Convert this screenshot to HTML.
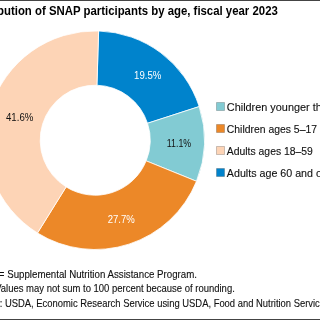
<!DOCTYPE html>
<html><head><meta charset="utf-8"><style>
html,body{margin:0;padding:0;}
body{width:320px;height:320px;position:relative;overflow:hidden;background:#fff;}
svg{position:absolute;left:0;top:0;will-change:transform;}
text{font-family:"Liberation Sans",sans-serif;white-space:pre;}
</style></head><body>
<svg width="320" height="320" viewBox="0 0 320 320">
<rect x="0" y="0" width="320" height="1" fill="#444"/>
<rect x="0" y="319" width="320" height="1" fill="#444"/>
<path d="M98.63,30.95 A109.3,109.3 0 0 1 199.19,106.55 L147.53,123.27 A55.0,55.0 0 0 0 96.93,85.23 Z" fill="#0083CC" stroke="#fff" stroke-width="0.8"/>
<path d="M199.19,106.55 A109.3,109.3 0 0 1 196.49,181.27 L146.17,160.87 A55.0,55.0 0 0 0 147.53,123.27 Z" fill="#82CBD3" stroke="#fff" stroke-width="0.8"/>
<path d="M196.49,181.27 A109.3,109.3 0 0 1 37.46,233.00 L66.14,186.90 A55.0,55.0 0 0 0 146.17,160.87 Z" fill="#EC8828" stroke="#fff" stroke-width="0.8"/>
<path d="M37.46,233.00 A109.3,109.3 0 0 1 98.63,30.95 L96.93,85.23 A55.0,55.0 0 0 0 66.14,186.90 Z" fill="#FDD4B6" stroke="#fff" stroke-width="0.8"/>
<rect x="216.5" y="102.5" width="8" height="8" fill="#82CBD3" stroke="#000" stroke-opacity="0.2" stroke-width="1"/>
<rect x="216.5" y="124.5" width="8" height="8" fill="#EC8828" stroke="#000" stroke-opacity="0.2" stroke-width="1"/>
<rect x="216.5" y="146.5" width="8" height="8" fill="#FDD4B6" stroke="#000" stroke-opacity="0.2" stroke-width="1"/>
<rect x="216.5" y="168.5" width="8" height="8" fill="#0083CC" stroke="#000" stroke-opacity="0.2" stroke-width="1"/>
<text transform="translate(-32.08,15.0) scale(0.9505,1)" font-size="12" font-weight="bold" fill="#000" stroke="#000" stroke-width="0">Distribution of SNAP participants by age, fiscal year 2023</text>
<text transform="translate(134.07,78.5) scale(0.9159,1)" font-size="10.5" font-weight="normal" fill="#fff" stroke="#fff" stroke-width="0">19.5%</text>
<text transform="translate(5.98,120.8) scale(0.9189,1)" font-size="10.5" font-weight="normal" fill="#111" stroke="#111" stroke-width="0">41.6%</text>
<text transform="translate(166.83,147) scale(0.8373,1)" font-size="10.5" font-weight="normal" fill="#111" stroke="#111" stroke-width="0">11.1%</text>
<text transform="translate(107.72,222.5) scale(0.9107,1)" font-size="10.5" font-weight="normal" fill="#fff" stroke="#fff" stroke-width="0">27.7%</text>
<text transform="translate(226.8,111.0) scale(0.9684,1)" font-size="11.25" font-weight="normal" fill="#111" stroke="#111" stroke-width="0.12">Children younger than 5</text>
<text transform="translate(226.8,133.0) scale(0.9254,1)" font-size="11.25" font-weight="normal" fill="#111" stroke="#111" stroke-width="0.12">Children ages 5–17</text>
<text transform="translate(226.8,155.0) scale(0.9239,1)" font-size="11.25" font-weight="normal" fill="#111" stroke="#111" stroke-width="0.12">Adults ages 18–59</text>
<text transform="translate(226.8,177.0) scale(0.9513,1)" font-size="11.25" font-weight="normal" fill="#111" stroke="#111" stroke-width="0.12">Adults age 60 and older</text>
<text transform="translate(-30.1,277.6) scale(0.9028,1)" font-size="10.75" font-weight="normal" fill="#111" stroke="#111" stroke-width="0.12">SNAP = Supplemental Nutrition Assistance Program.</text>
<text transform="translate(-30.1,291.7) scale(0.8833,1)" font-size="10.75" font-weight="normal" fill="#111" stroke="#111" stroke-width="0.12">Note: Values may not sum to 100 percent because of rounding.</text>
<text transform="translate(-30.1,306.7) scale(0.8768,1)" font-size="10.75" font-weight="normal" fill="#111" stroke="#111" stroke-width="0.12">Source: USDA, Economic Research Service using USDA, Food and Nutrition Service data.</text>
</svg>
</body></html>
